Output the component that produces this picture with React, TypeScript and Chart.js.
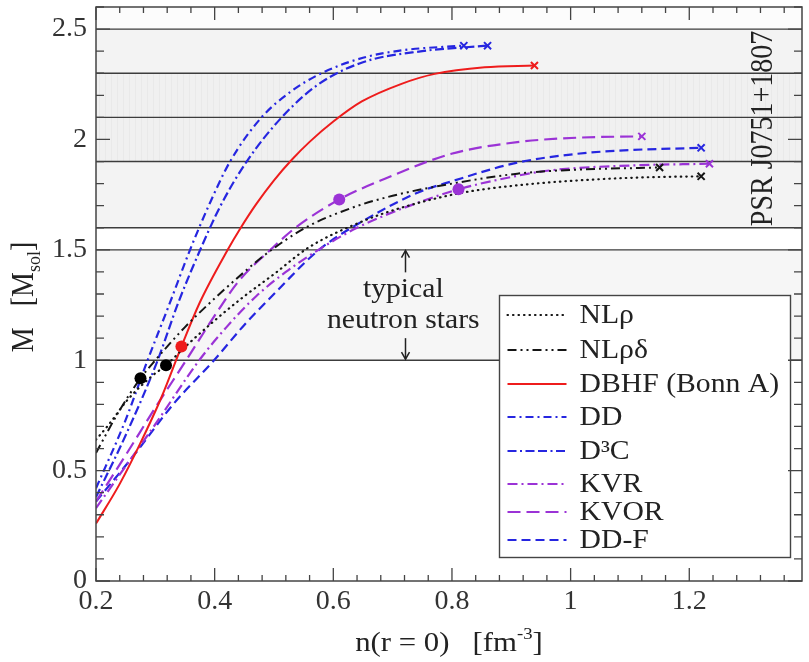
import React, { useEffect, useRef } from 'react';
import { Chart, registerables } from 'chart.js';

Chart.register(...registerables);

const FONT = '"Liberation Serif", "Times New Roman", Times, serif';

// ---- data ----
const seriesLabels = ['NLρ', 'NLρδ', 'DBHF (Bonn A)', 'DD', 'D³C', 'KVR', 'KVOR', 'DD-F'];

// central density n(r=0) [fm^-3] and mass M [M_sol]
const nlRhoN = [0.2, 0.222, 0.253, 0.295, 0.318, 0.35, 0.4, 0.45, 0.5, 0.558, 0.65, 0.72, 0.82, 0.92, 1.01, 1.12, 1.22];
const nlRhoM = [0.64, 0.71, 0.82, 0.93, 0.977, 1.06, 1.18, 1.29, 1.39, 1.51, 1.63, 1.695, 1.76, 1.795, 1.814, 1.828, 1.833];

const nlRhoDeltaN = [0.2, 0.239, 0.275, 0.3, 0.35, 0.4, 0.45, 0.486, 0.553, 0.631, 0.7, 0.8, 0.91, 1.0, 1.15];
const nlRhoDeltaM = [0.58, 0.77, 0.918, 1.0, 1.15, 1.28, 1.4, 1.48, 1.6, 1.69, 1.745, 1.8, 1.845, 1.862, 1.873];

const dbhfN = [0.2, 0.24, 0.274, 0.31, 0.344, 0.374, 0.422, 0.444, 0.47, 0.5, 0.53, 0.56, 0.6, 0.648, 0.715, 0.771, 0.855, 0.939];
const dbhfM = [0.26, 0.44, 0.62, 0.83, 1.062, 1.256, 1.5, 1.6, 1.707, 1.815, 1.908, 1.989, 2.081, 2.172, 2.252, 2.297, 2.327, 2.335];

const ddN = [0.2, 0.25, 0.287, 0.324, 0.357, 0.39, 0.426, 0.479, 0.53, 0.58, 0.65, 0.72, 0.82];
const ddM = [0.42, 0.73, 1.0, 1.256, 1.49, 1.7, 1.9, 2.1, 2.22, 2.3, 2.37, 2.405, 2.425];

const d3cN = [0.2, 0.25, 0.304, 0.338, 0.374, 0.41, 0.454, 0.513, 0.575, 0.65, 0.75, 0.86];
const d3cM = [0.38, 0.66, 1.0, 1.256, 1.49, 1.7, 1.9, 2.1, 2.25, 2.35, 2.4, 2.425];

const kvrN = [0.2, 0.25, 0.3, 0.374, 0.42, 0.47, 0.52, 0.575, 0.64, 0.715, 0.811, 0.9, 0.966, 1.1, 1.234];
const kvrM = [0.33, 0.52, 0.71, 1.0, 1.15, 1.29, 1.4, 1.5, 1.6, 1.686, 1.774, 1.83, 1.86, 1.882, 1.89];

const kvorN = [0.2, 0.25, 0.3, 0.352, 0.402, 0.441, 0.494, 0.536, 0.61, 0.687, 0.799, 0.91, 1.011, 1.12];
const kvorM = [0.36, 0.57, 0.785, 1.0, 1.21, 1.36, 1.5, 1.6, 1.728, 1.822, 1.935, 1.988, 2.008, 2.014];

const ddfN = [0.2, 0.264, 0.33, 0.399, 0.45, 0.5, 0.575, 0.642, 0.743, 0.799, 0.91, 1.011, 1.1, 1.22];
const ddfM = [0.36, 0.57, 0.8, 1.0, 1.16, 1.3, 1.498, 1.618, 1.76, 1.81, 1.895, 1.935, 1.952, 1.962];

// filled circles on curves
const dotSeries = ['NLρδ', 'NLρ', 'DBHF (Bonn A)', 'KVOR', 'KVR'];
const dotN = [0.275, 0.318, 0.344, 0.61, 0.811];
const dotM = [0.918, 0.977, 1.062, 1.728, 1.774];

// reference mass lines and bands
const massLines = [1.0, 1.5, 1.6, 1.9, 2.1, 2.3, 2.5];
const typicalBand = [1.0, 1.5];
const psrOuterBands = [[1.6, 1.9], [2.3, 2.5]];
const psrInnerBand = [1.9, 2.3];

const typicalLines = ['typical', 'neutron stars'];
const typicalLineM = [1.285, 1.145];
const typicalN = 0.718;
const typicalArrowUp = [1.398, 1.497];
const typicalArrowDown = [1.1, 1.005];
const psrLabel = 'PSR J0751+1807';
const psrN = 1.324;
const psrM = 2.05;

const xMin = 0.2, xMax = 1.39, xStep = 0.2, xMinor = 0.04;
const yMin = 0, yMax = 2.6, yStep = 0.5, yMinor = 0.1;

// ---- styles ----
const BLACK = '#151515', RED = '#ee1c1c', BLUE = '#2626e0', PURPLE = '#9b33d6';
type S = { label: string; n: number[]; m: number[]; color: string; dash: number[]; width: number; cap: CanvasLineCap };
const seriesList: S[] = [
  { label: seriesLabels[0], n: nlRhoN, m: nlRhoM, color: BLACK, dash: [0.5, 5], width: 2.2, cap: 'round' },
  { label: seriesLabels[1], n: nlRhoDeltaN, m: nlRhoDeltaM, color: BLACK, dash: [9, 4, 2, 4, 2, 4], width: 2, cap: 'butt' },
  { label: seriesLabels[2], n: dbhfN, m: dbhfM, color: RED, dash: [], width: 2, cap: 'butt' },
  { label: seriesLabels[3], n: ddN, m: ddM, color: BLUE, dash: [8, 4, 2, 4], width: 2.2, cap: 'butt' },
  { label: seriesLabels[4], n: d3cN, m: d3cM, color: BLUE, dash: [9, 3.5, 2, 3.5, 9, 3.5], width: 2.2, cap: 'butt' },
  { label: seriesLabels[5], n: kvrN, m: kvrM, color: PURPLE, dash: [10, 4, 2, 4], width: 2.2, cap: 'butt' },
  { label: seriesLabels[6], n: kvorN, m: kvorM, color: PURPLE, dash: [13, 6], width: 2.2, cap: 'butt' },
  { label: seriesLabels[7], n: ddfN, m: ddfM, color: BLUE, dash: [9, 5], width: 2.2, cap: 'butt' },
];

const fmt = (v: number) => String(parseFloat(Number(v).toFixed(2)));

type Part = { t: string; size: number; dy?: number };
function richWidth(ctx: CanvasRenderingContext2D, parts: Part[]) {
  let w = 0;
  for (const p of parts) { ctx.font = `${p.size}px ${FONT}`; w += ctx.measureText(p.t).width; }
  return w;
}
function drawRich(ctx: CanvasRenderingContext2D, parts: Part[], cx: number, cy: number, rot: number, sx = 1, sy = 1) {
  ctx.save();
  ctx.translate(cx, cy);
  ctx.rotate(rot);
  ctx.scale(sx, sy);
  const w = richWidth(ctx, parts);
  let x = -w / 2;
  ctx.textAlign = 'left';
  ctx.textBaseline = 'alphabetic';
  for (const p of parts) {
    ctx.font = `${p.size}px ${FONT}`;
    ctx.fillText(p.t, x, p.dy || 0);
    x += ctx.measureText(p.t).width;
  }
  ctx.restore();
}

const decor = {
  id: 'decor',
  beforeDatasetsDraw(chart: any) {
    const { ctx, chartArea: a, scales } = chart;
    const xs = scales.x, ys = scales.y;
    const py = (m: number) => ys.getPixelForValue(m);
    const W = a.right - a.left;
    ctx.save();
    ctx.beginPath(); ctx.rect(a.left, a.top, W, a.bottom - a.top); ctx.clip();
    const band = (m0: number, m1: number, c: string) => { ctx.fillStyle = c; ctx.fillRect(a.left, py(m1), W, py(m0) - py(m1)); };
    band(massLines[6], yMax, '#fcfcfc');
    band(typicalBand[0], typicalBand[1], '#f6f6f6');
    psrOuterBands.forEach(b => band(b[0], b[1], '#f3f3f3'));
    band(psrInnerBand[0], psrInnerBand[1], '#f0f0f0');
    // faint vertical stripes in inner band
    ctx.strokeStyle = 'rgba(0,0,0,0.028)';
    ctx.lineWidth = 1;
    const t = py(psrInnerBand[1]), b = py(psrInnerBand[0]);
    for (let X = a.left + 3; X < a.right; X += 6) {
      ctx.beginPath(); ctx.moveTo(Math.round(X) + 0.5, t); ctx.lineTo(Math.round(X) + 0.5, b); ctx.stroke();
    }
    // reference lines
    ctx.strokeStyle = '#3c3c3c';
    ctx.lineWidth = 1.4;
    for (const m of massLines) {
      const y = py(m);
      ctx.beginPath(); ctx.moveTo(a.left, y); ctx.lineTo(a.right, y); ctx.stroke();
    }
    // typical neutron stars annotation
    ctx.fillStyle = '#222';
    const ax = xs.getPixelForValue(typicalN);
    typicalLines.forEach((s, i) => drawRich(ctx, [{ t: s, size: 27 }], ax, py(typicalLineM[i]), 0, 1.1, 1));
    const arrow = (y0: number, y1: number) => {
      const X = Math.round(xs.getPixelForValue(0.72)) + 0.5;
      ctx.strokeStyle = '#222'; ctx.lineWidth = 1.5;
      ctx.beginPath(); ctx.moveTo(X, y0); ctx.lineTo(X, y1); ctx.stroke();
      const d = y1 > y0 ? -1 : 1;
      ctx.beginPath(); ctx.moveTo(X - 4, y1 + d * 7); ctx.lineTo(X, y1); ctx.lineTo(X + 4, y1 + d * 7); ctx.stroke();
    };
    arrow(py(typicalArrowUp[0]), py(typicalArrowUp[1]));
    arrow(py(typicalArrowDown[0]), py(typicalArrowDown[1]));
    // PSR label
    ctx.fillStyle = '#222';
    drawRich(ctx, [{ t: psrLabel, size: 28 }], xs.getPixelForValue(psrN) + 9, py(psrM), -Math.PI / 2, 1, 1.15);
    ctx.restore();
  },
  afterDatasetsDraw(chart: any) {
    const { ctx, chartArea: a } = chart;
    const L = a.left + 403.5, T = a.top + 288.5, R = a.left + 694.5, B = a.top + 550.5;
    ctx.save();
    ctx.fillStyle = '#fff';
    ctx.fillRect(L, T, R - L, B - T);
    ctx.strokeStyle = '#444'; ctx.lineWidth = 1.4;
    ctx.strokeRect(L, T, R - L, B - T);
    const rows = [313, 348, 382, 415, 449, 482, 510, 538];
    seriesList.forEach((s, i) => {
      const y = a.top + rows[i] - 5;
      ctx.strokeStyle = s.color; ctx.lineWidth = s.width; ctx.setLineDash(s.dash); ctx.lineCap = s.cap;
      ctx.beginPath(); ctx.moveTo(L + 8, y); ctx.lineTo(L + 67, y); ctx.stroke();
      ctx.setLineDash([]); ctx.lineCap = 'butt';
      ctx.fillStyle = '#222';
      ctx.save();
      ctx.translate(L + 80, y);
      ctx.scale(1.1, 1);
      ctx.font = `27px ${FONT}`;
      ctx.textAlign = 'left'; ctx.textBaseline = 'middle';
      ctx.fillText(s.label, 0, 1);
      ctx.restore();
    });
    ctx.restore();
  },
  afterDraw(chart: any) {
    const { ctx, chartArea: a, scales } = chart;
    const xs = scales.x, ys = scales.y;
    ctx.save();
    ctx.strokeStyle = '#444'; ctx.lineWidth = 1.5;
    ctx.strokeRect(a.left, a.top, a.right - a.left, a.bottom - a.top);
    ctx.lineWidth = 1.3;
    const nx = Math.round((xMax - xMin) / xMinor);
    for (let i = 0; i <= nx; i++) {
      const v = xMin + i * xMinor;
      if (v > xMax) break;
      const X = xs.getPixelForValue(v);
      const len = i % Math.round(xStep / xMinor) === 0 ? 13 : 6;
      ctx.beginPath(); ctx.moveTo(X, a.bottom); ctx.lineTo(X, a.bottom - len);
      ctx.moveTo(X, a.top); ctx.lineTo(X, a.top + len); ctx.stroke();
    }
    const ny = Math.round((yMax - yMin) / yMinor);
    for (let i = 0; i <= ny; i++) {
      const v = yMin + i * yMinor;
      const Y = ys.getPixelForValue(v);
      const len = i % Math.round(yStep / yMinor) === 0 ? 14 : 8;
      ctx.beginPath(); ctx.moveTo(a.left, Y); ctx.lineTo(a.left + len, Y);
      ctx.moveTo(a.right, Y); ctx.lineTo(a.right - len, Y); ctx.stroke();
    }
    ctx.fillStyle = '#222';
    drawRich(ctx, [{ t: 'M   [M', size: 28 }, { t: 'sol', size: 18, dy: 6 }, { t: ']', size: 28 }], 33, (a.top + a.bottom) / 2 + 3, -Math.PI / 2, 1, 1.1);
    drawRich(ctx, [{ t: 'n(r = 0)   [fm', size: 28 }, { t: '-3', size: 17, dy: -12 }, { t: ']', size: 28 }], (a.left + a.right) / 2, 651, 0, 1.1, 1);
    ctx.restore();
  },
};

export default function App() {
  const ref = useRef<HTMLCanvasElement>(null);
  useEffect(() => {
    const canvas = ref.current!;
    const datasets: any[] = [];
    seriesList.forEach(s => {
      datasets.push({
        label: s.label,
        data: s.n.map((x, i) => ({ x, y: s.m[i] })),
        showLine: true,
        borderColor: s.color,
        backgroundColor: s.color,
        borderWidth: s.width,
        borderDash: s.dash,
        borderCapStyle: s.cap,
        pointRadius: 0,
        pointHoverRadius: 0,
        cubicInterpolationMode: 'monotone',
        fill: false,
        order: 3,
      });
      const k = s.n.length - 1;
      datasets.push({
        label: s.label + ' max',
        data: [{ x: s.n[k], y: s.m[k] }],
        showLine: false,
        pointStyle: 'crossRot',
        pointRadius: 5,
        pointBorderWidth: 2,
        borderWidth: 2,
        borderColor: s.color,
        backgroundColor: s.color,
        order: 2,
      });
    });
    dotSeries.forEach((name, i) => {
      const s = seriesList.find(q => q.label === name)!;
      datasets.push({
        label: name + ' dot',
        data: [{ x: dotN[i], y: dotM[i] }],
        showLine: false,
        pointStyle: 'circle',
        pointRadius: 6,
        borderWidth: 0,
        pointBorderWidth: 0,
        backgroundColor: s.color === BLACK ? '#000' : s.color,
        borderColor: s.color,
        order: 1,
      });
    });
    const tickFont = { family: FONT, size: 28 };
    const chart = new Chart(canvas, {
      type: 'scatter',
      data: { datasets },
      plugins: [decor],
      options: {
        responsive: false,
        animation: false,
        events: [],
        layout: { padding: { top: 5, right: 1, left: 0, bottom: 0 } },
        plugins: { legend: { display: false }, tooltip: { enabled: false } },
        scales: {
          x: {
            type: 'linear', min: xMin, max: xMax,
            grid: { display: false, drawTicks: false },
            border: { display: false },
            ticks: { stepSize: xStep, includeBounds: false, padding: 4, color: '#333', font: tickFont, callback: (v: any) => fmt(v), maxRotation: 0, autoSkip: false },
            afterFit: (s: any) => { s.height = 81; s.paddingLeft = 0; s.paddingRight = 0; },
          },
          y: {
            type: 'linear', min: yMin, max: yMax,
            grid: { display: false, drawTicks: false },
            border: { display: false },
            ticks: { stepSize: yStep, includeBounds: false, padding: 9, color: '#333', font: tickFont, callback: (v: any) => fmt(v), autoSkip: false },
            afterFit: (s: any) => { s.width = 96; s.paddingTop = 0; s.paddingBottom = 0; },
          },
        },
      } as any,
    });
    return () => chart.destroy();
  }, []);
  return (
    <div style={{ position: 'fixed', left: 0, top: 0, width: 809, height: 662, background: '#fff' }}>
      <canvas ref={ref} width={809} height={662} style={{ display: 'block' }} />
    </div>
  );
}
